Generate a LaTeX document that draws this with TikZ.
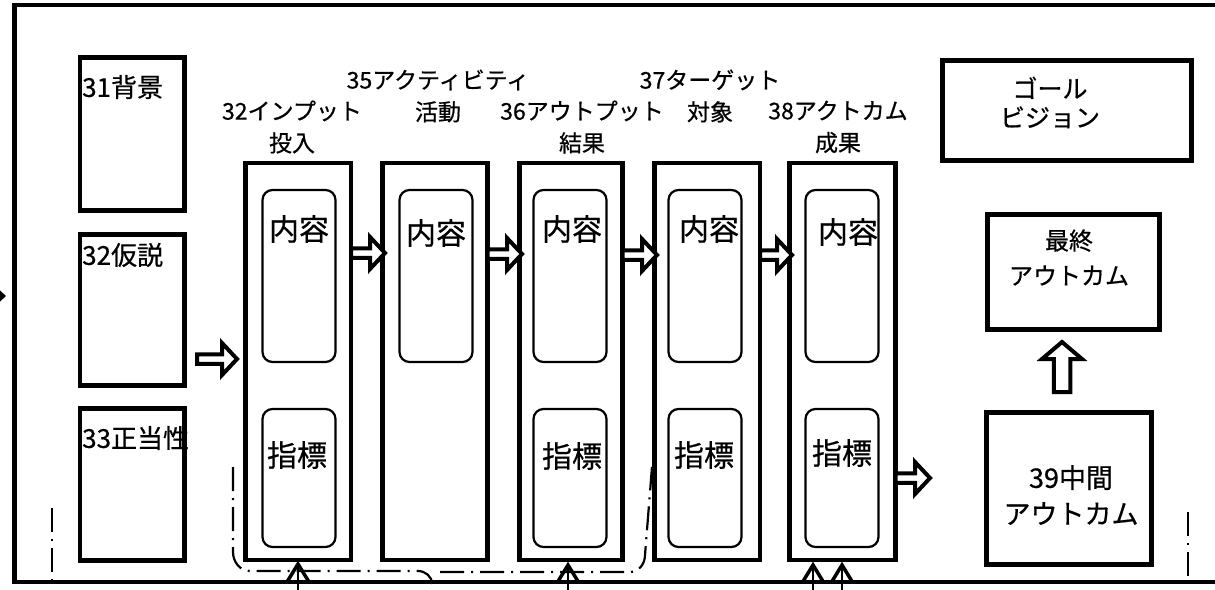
\documentclass[tikz,border=0pt]{standalone}
\usepackage{fontspec}
\setmainfont{Noto Sans CJK JP}[FakeBold=0.6]
\usetikzlibrary{calc}
\newcommand{\rblock}[2]{\draw[blk] let \p1=(#1), \p2=(#2) in
  (\x1,\y1+4.75pt) -- (\x2-15pt,\y1+4.75pt) -- (\x2-15pt,\y1+16pt) -- (\x2,\y1)
  -- (\x2-15pt,\y1-16pt) -- (\x2-15pt,\y1-4.75pt) -- (\x1,\y1-4.75pt) -- cycle;}
\newcommand{\ublock}[2]{\draw[blk] let \p1=(#1), \p2=(#2) in
  (\x1-8.25pt,\y1) -- (\x1-8.25pt,\y2-17pt) -- (\x1-20pt,\y2-17pt) -- (\x1,\y2)
  -- (\x1+20pt,\y2-17pt) -- (\x1+8.25pt,\y2-17pt) -- (\x1+8.25pt,\y1) -- cycle;}
\newcommand{\uptick}[2]{\draw[line width=2.5pt] (#2) -- (#1);
  \draw[line width=3.5pt] ($(#1)+(-11,18)$) -- (#1) -- ($(#1)+(11,18)$);}
\begin{document}
\begin{tikzpicture}[x=1pt,y=-1pt,
  box/.style={draw, line width=4.5pt, inner sep=0pt, outer sep=0pt, rectangle},
  inbox/.style={draw, line width=2.2pt, rounded corners=10pt, inner sep=0pt, outer sep=0pt, minimum width=73pt},
  blk/.style={draw, line width=4pt, fill=white, line join=miter},
  dd/.style={line width=2.2pt, dash pattern=on 24pt off 7pt on 2pt off 7pt},
  lbl/.style={font=\fontsize{23}{32}\selectfont, align=center, inner sep=0pt},
  big/.style={font=\fontsize{30}{34}\selectfont, inner sep=0pt},
  side/.style={font=\fontsize{26}{30}\selectfont, inner sep=0pt, anchor=west}]
\path[use as bounding box, clip] (0,0) rectangle (1215,589);
\fill[white] (0,0) rectangle (1215,589);

% outer frame (open to the right)
\draw[line width=4.5pt] (1230,5) -- (14.5,5) -- (14.5,582) -- (1230,582);
\fill (-6,285) -- (6,296) -- (-6,307) -- cycle;

% dash-dot brackets
\draw[dd] (233,467) -- (233,552) to[out=-90,in=180] (250,571) -- (418,571) to[out=0,in=90] (432,584);
\draw[dd] (440,572) -- (630,572) to[out=0,in=-90] (645,555) -- (652,467);
\draw[dd] (52,508) -- (52,580);
\draw[dd] (1188,512) -- (1188,580);

% left boxes
\node[box, minimum width=104.5pt, minimum height=153pt] (b31) at (132.25,134) {};
\node[box, minimum width=104.5pt, minimum height=151pt] (b32) at (132.25,310) {};
\node[box, minimum width=104.5pt, minimum height=152pt] (b33) at (132.25,484.5) {};
\node[side] (t31) at (82,87) {31背景};
\node[side] (t32) at (82,255) {32仮説};
\node[side] (t33) at (82,438) {33正当性};

% column labels
\node[lbl] (l32) at (292,127) {32インプット\\投入};
\node[lbl] (l35) at (438,96) {35アクティビティ\\活動};
\node[lbl] (l36) at (582,127) {36アウトプット\\結果};
\node[lbl] (l37) at (710,96) {37ターゲット\\対象};
\node[lbl] (l38) at (838,127) {38アクトカム\\成果};

% columns
\node[box, minimum width=105.5pt, minimum height=397pt] (c32) at (298.25,361.5) {};
\node[box, minimum width=105pt, minimum height=397pt] (c35) at (435,361.5) {};
\node[box, minimum width=103pt, minimum height=397pt] (c36) at (571,361.5) {};
\node[box, minimum width=105.5pt, minimum height=397pt] (c37) at (707.25,361.5) {};
\node[box, minimum width=106pt, minimum height=397pt] (c38) at (842.5,361.5) {};

% inner boxes
\node[inbox, minimum height=172pt] (n32) at (299,276) {};
\node[inbox, minimum height=172pt] (n35) at (436,276) {};
\node[inbox, minimum height=172pt] (n36) at (570,276) {};
\node[inbox, minimum height=172pt] (n37) at (705,276) {};
\node[inbox, minimum height=172pt] (n38) at (842,276) {};
\node[inbox, minimum height=138pt] (s32) at (299,478) {};
\node[inbox, minimum height=138pt] (s36) at (570,478) {};
\node[inbox, minimum height=138pt] (s37) at (705,478) {};
\node[inbox, minimum height=138pt] (s38) at (842,478) {};

\node[big] (k32) at (299,229) {内容};
\node[big] (k35) at (436,233) {内容};
\node[big] (k36) at (572,229) {内容};
\node[big] (k37) at (709,229) {内容};
\node[big] (k38) at (848,232) {内容};
\node[big] (h32) at (297,455) {指標};
\node[big] (h36) at (572,456) {指標};
\node[big] (h37) at (704,455) {指標};
\node[big] (h38) at (842,453) {指標};

% right boxes
\node[box, minimum width=249pt, minimum height=100pt] (goal) at (1067,110.5) {};
\node[box, minimum width=172pt, minimum height=115pt] (final) at (1073.5,272) {};
\node[box, minimum width=165pt, minimum height=152pt] (mid) at (1069,488.5) {};
\node[font=\fontsize{25}{29}\selectfont, align=center, inner sep=0pt] (tg) at (1050,102.5) {ゴール\\ビジョン};
\node[font=\fontsize{24}{35}\selectfont, align=center, inner sep=0pt] (tf) at (1069,257.5) {最終\\アウトカム};
\node[font=\fontsize{27}{36}\selectfont, align=center, inner sep=0pt] (tm) at (1071,495) {39中間\\アウトカム};

% block arrows
\coordinate (a0s) at (197,359);
\coordinate (a0e) at (237,359);
\rblock{a0s}{a0e}
\rblock{c32.east |- 0,253}{[xshift=2.5pt]c35.west |- 0,253}
\rblock{c35.east |- 0,254}{[xshift=2.5pt]c36.west |- 0,254}
\rblock{c36.east |- 0,255}{[xshift=2.5pt]c37.west |- 0,255}
\rblock{c37.east |- 0,255}{[xshift=2.5pt]c38.west |- 0,255}
\coordinate (a6e) at (930,478);
\rblock{c38.east |- 0,478}{a6e}
\coordinate (u0s) at (1062,392);
\coordinate (u0e) at (1062,342);
\ublock{u0s}{u0e}

% small up arrows from the bottom
\coordinate (p1) at (298,564); \coordinate (q1) at (298,600);
\coordinate (p2) at (568,565); \coordinate (q2) at (568,600);
\coordinate (p3) at (813,565); \coordinate (q3) at (813,600);
\coordinate (p4) at (842,565); \coordinate (q4) at (842,600);
\uptick{p1}{q1}
\uptick{p2}{q2}
\uptick{p3}{q3}
\uptick{p4}{q4}
\end{tikzpicture}
\end{document}
